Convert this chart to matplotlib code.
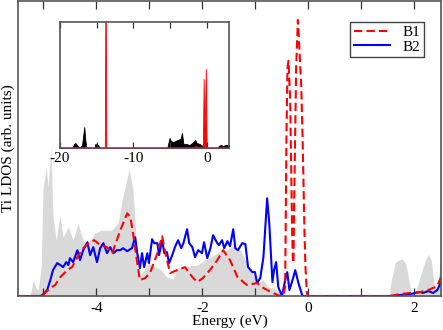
import numpy as np
import matplotlib.pyplot as plt
from matplotlib.ticker import MultipleLocator

plt.rcParams['font.family'] = ['Liberation Serif', 'DejaVu Serif']
plt.rcParams['axes.unicode_minus'] = False

# Total DOS (grey background), arb. units
e_tot = [-5.48, -5.25, -5.19, -5.14, -5.10, -5.04, -5.01, -4.95, -4.91, -4.86,
         -4.82, -4.76, -4.69, -4.63, -4.53, -4.44, -4.35, -4.25, -4.16, -4.03,
         -3.91, -3.72, -3.59, -3.52, -3.46, -3.38, -3.31, -3.25, -3.23, -3.18,
         -3.02, -2.95, -2.80, -2.67, -2.55, -2.48, -2.29, -2.10, -1.95, -1.80,
         -1.67, -1.53, -1.44, -1.29, -1.19, -1.06, -0.95, -0.86, -0.76, -0.63,
         -0.50, 1.52, 1.56, 1.64, 1.71, 1.77, 1.83, 1.88, 1.94, 2.01,
         2.11, 2.20, 2.26, 2.32, 2.37, 2.43, 2.47, 2.50]
dos_tot = [0, 0, 16, 8, 6, 30, 106, 129, 110, 150,
           81, 56, 81, 59, 69, 56, 73, 56, 53, 63,
           66, 66, 73, 95, 109, 128, 106, 56, 26, 19,
           33, 30, 27, 19, 17, 28, 30, 31, 36, 40,
           45, 46, 50, 46, 36, 23, 13, 16, 9, 8,
           0, 0, 15, 34, 36, 37, 33, 20, 3, 2,
           20, 35, 42, 35, 12, 8, 25, 40]

# B1 Ti LDOS
e_b1 = [-5.48, -5.02, -4.97, -4.87, -4.78, -4.68, -4.55, -4.46, -4.36, -4.25,
        -4.12, -4.04, -3.93, -3.80, -3.70, -3.65, -3.55, -3.42, -3.36, -3.31,
        -3.23, -3.18, -3.08, -2.99, -2.85, -2.76, -2.70, -2.61, -2.48, -2.33,
        -2.19, -2.10, -1.99, -1.86, -1.72, -1.61, -1.48, -1.34, -1.16, -0.97,
        -0.85, -0.67, -0.53, -0.48, -0.44, -0.426, -0.415, -0.396, -0.377, -0.345,
        -0.326, -0.308, -0.294, -0.283, -0.270, -0.251, -0.232, -0.200, -0.170, -0.138,
        -0.113, -0.094, -0.075, -0.057, -0.030, -0.006, 1.54, 1.73, 1.92, 2.11,
        2.26, 2.35, 2.43, 2.50]
dos_b1 = [0, 0, 3, 8, 11, 19, 26, 29, 39, 48,
          54, 56, 51, 49, 43, 51, 66, 83, 79, 63,
          33, 16, 18, 23, 43, 60, 43, 23, 26, 29,
          19, 14, 18, 26, 36, 46, 36, 19, 11, 13,
          8, 3, 0, 0, 9, 96, 163, 229, 236, 196,
          129, 63, 36, 33, 96, 163, 229, 277, 246, 213,
          163, 113, 63, 29, 3, 0, 0, 2, 3, 4,
          6, 8, 10, 19]

# B2 Ti LDOS
e_b2 = [-5.48, -5.06, -5.02, -4.93, -4.87, -4.82, -4.74, -4.68, -4.63, -4.57,
        -4.53, -4.50, -4.44, -4.36, -4.31, -4.25, -4.17, -4.12, -4.06, -3.99,
        -3.93, -3.87, -3.80, -3.74, -3.68, -3.61, -3.55, -3.50, -3.42, -3.33,
        -3.27, -3.23, -3.18, -3.14, -3.10, -3.04, -3.01, -2.95, -2.91, -2.85,
        -2.82, -2.76, -2.72, -2.67, -2.63, -2.57, -2.52, -2.46, -2.40, -2.36,
        -2.29, -2.25, -2.19, -2.14, -2.08, -2.01, -1.97, -1.91, -1.85, -1.80,
        -1.72, -1.69, -1.63, -1.59, -1.53, -1.48, -1.42, -1.38, -1.33, -1.25,
        -1.19, -1.14, -1.06, -1.01, -0.97, -0.91, -0.85, -0.78, -0.74, -0.68,
        -0.65, -0.61, -0.57, -0.50, -0.44, -0.40, -0.36, -0.29, -0.25, -0.19,
        -0.12, -0.10, 1.54, 1.73, 1.92, 2.11, 2.16, 2.26, 2.35, 2.43,
        2.50]
dos_b2 = [0, 0, 1, 6, 16, 26, 33, 31, 29, 34,
          31, 38, 34, 46, 36, 46, 54, 41, 49, 34,
          48, 53, 43, 49, 43, 46, 46, 48, 45, 48,
          59, 43, 28, 43, 29, 43, 33, 57, 53, 53,
          41, 56, 43, 44, 33, 41, 49, 56, 48, 53,
          67, 53, 49, 39, 46, 43, 54, 38, 48, 61,
          53, 51, 56, 48, 55, 50, 67, 48, 46, 53,
          52, 29, 24, 24, 13, 18, 39, 98, 73, 14,
          26, 34, 9, 0, 16, 24, 6, 18, 26, 13,
          1, 0, 0, 1, 2, 4, 3, 5, 3, 6,
          14]

# Inset: wide energy window
e_in_tot = [-20, -18.3, -18.1, -17.9, -17.6, -17.3, -17.0, -16.8, -16.7, -16.55,
            -16.4, -15.3, -15.2, -14.8, -14.6, -5.4, -5.1, -4.9, -4.6, -4.3,
            -4.0, -3.6, -3.4, -3.2, -2.8, -2.4, -2.0, -1.6, -1.4, -1.0,
            -0.6, -0.4, 1.5, 1.6, 1.9, 2.2, 2.5, 3.0]
dos_in_tot = [0, 0, 4, 5, 2, 0, 3, 15, 21, 8,
              0, 0, 4, 3, 0, 0, 10, 7, 6, 7,
              8, 9, 15, 4, 4, 3, 5, 8, 5, 4,
              2, 0, 0, 2, 3, 2, 3, 3]
e_in_b1 = [-20, -13.9, -13.8, -13.7, -2.0, -1.5, -1.0, -0.55, -0.45, -0.35,
           -0.25, -0.15, -0.05, 3.0]
dos_in_b1 = [0, 0, 200, 0, 0, 2, 0, 0, 69, 20,
             40, 79, 0, 0]

fs = 11

fig = plt.figure(figsize=(4.43, 3.30), dpi=100)
ax = fig.add_axes([18/443, 34/330, 423/443, 295/330])

ax.fill_between(e_tot, dos_tot, color='#d9d9d9', lw=0)
ax.plot(e_b2, dos_b2, color='#0000ff', lw=1.5, label='B2')
ax.plot(e_b1, dos_b1, color='#ff0000', lw=1.5, ls=(0, (4, 2)), label='B1')

ax.set_xlim(-5.48, 2.5)
ax.set_ylim(0, 296)
ax.set_yticks([])
ax.xaxis.set_major_locator(MultipleLocator(2))
ax.xaxis.set_minor_locator(MultipleLocator(1))
ax.tick_params(axis='x', which='both', direction='in', top=True, length=6,
               width=0.9, color='#333333', labelsize=fs, pad=4)
for s in ax.spines.values():
    s.set_color('#555555')
    s.set_linewidth(1.2)
ax.set_xlabel('Energy (eV)', fontsize=fs, labelpad=0)
ax.set_ylabel('Ti LDOS (arb. units)', fontsize=fs)
ax.yaxis.set_label_coords(-0.008, 0.5)

h, l = ax.get_legend_handles_labels()
leg = ax.legend([h[1], h[0]], [l[1], l[0]], loc='upper right',
                bbox_to_anchor=(0.96, 0.93), fontsize=fs, fancybox=False,
                edgecolor='#444444', framealpha=1, handlelength=2.4,
                borderpad=0.25, labelspacing=0.05, handletextpad=0.8,
                borderaxespad=0)
leg.get_frame().set_linewidth(1.0)

ins = fig.add_axes([60/443, 182/330, 169/443, 126/330])
ins.fill_between(e_in_tot, dos_in_tot, color='black', lw=0.6, edgecolor='black')
ins.fill_between(e_in_b1, dos_in_b1, color='#ff0000', lw=0.6, edgecolor='#ff0000')
ins.set_xlim(-20, 3)
ins.set_ylim(0, 126)
ins.set_yticks([])
ins.xaxis.set_major_locator(MultipleLocator(10))
ins.xaxis.set_minor_locator(MultipleLocator(5))
ins.tick_params(axis='x', which='both', direction='in', top=True, length=4,
                width=0.9, color='#333333', labelsize=fs, pad=3)
for s in ins.spines.values():
    s.set_color('#555555')
    s.set_linewidth(1.2)

fig.savefig('out.png', dpi=100)
